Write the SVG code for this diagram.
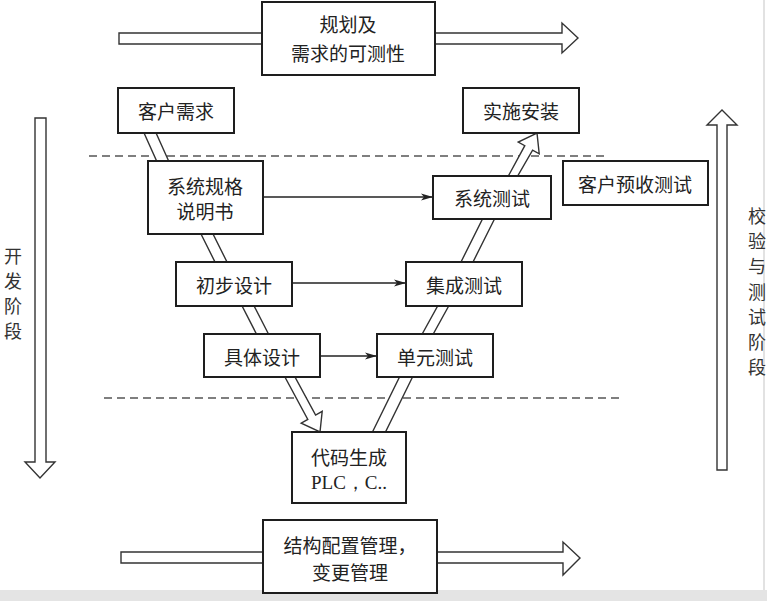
<svg xmlns="http://www.w3.org/2000/svg" width="767" height="601" viewBox="0 0 767 601">
<style>
.box{fill:#fff;stroke:#1e1e1e;stroke-width:2}
.t{font-family:"Noto Sans CJK SC","Noto Sans CJK JP",sans-serif;font-size:19px;fill:#222;text-anchor:middle;dominant-baseline:central}
.lat{font-family:"Liberation Serif",serif;font-size:19px;fill:#222;text-anchor:middle;dominant-baseline:central}
.v{font-family:"Noto Sans CJK SC","Noto Sans CJK JP",sans-serif;font-size:18px;fill:#333;text-anchor:middle;dominant-baseline:central}
.hol{fill:#fff;stroke:#333;stroke-width:1.4;stroke-linejoin:miter}
.dash{stroke:#555;stroke-width:1.5;stroke-dasharray:8 5;fill:none}
.link{stroke:#222;stroke-width:1.3;fill:none;marker-end:url(#ah)}
</style>
<defs>
<marker id="ah" viewBox="0 0 12 8" refX="12" refY="4" markerWidth="12" markerHeight="8" markerUnits="userSpaceOnUse" orient="auto">
<path d="M0,0.5 L12,4 L0,7.5 L3,4 Z" fill="#222"/>
</marker>
</defs>
<rect x="0" y="0" width="767" height="601" fill="#fff"/>
<rect x="0" y="590" width="767" height="11" fill="#e4e4e4"/>
<line x1="764" y1="0" x2="764" y2="590" stroke="#d8d8d8" stroke-width="1.5"/>

<g id="phase-arrows">
<polygon class="hol" points="119,33 562,33 562,23 578,38 562,53 562,44 119,44"/>
<polygon class="hol" points="121,552 563,552 563,542 580,558 563,575 563,563 121,563"/>
<polygon class="hol" points="35,118 46,118 46,462 55,462 40,478 25,462 35,462"/>
<polygon class="hol" points="717,470 727,470 727,125 737,125 722,110 707,125 717,125"/>
</g>

<g id="dashed-lines">
<line class="dash" x1="89" y1="156" x2="608" y2="156"/>
<line class="dash" x1="104" y1="398" x2="622" y2="398"/>
</g>

<g id="connectors">
<!-- left branch of V -->
<polygon class="hol" points="140,124 152,124 170,164 158,164"/>
<polygon class="hol" points="197,226 209,226 229,266 217,266"/>
<polygon class="hol" points="238,298 250,298 270,337 258,337"/>
<polygon class="hol" points="279,366 289,366 315.6,415 322.2,411.3 320,432 301.2,423.1 307.8,419.4"/>
<!-- right branch of V -->
<polygon class="hol" points="370,437 383,437 415,372 402,372"/>
<polygon class="hol" points="420,338 431,338 452,300 441,300"/>
<polygon class="hol" points="458,268 470,268 498,212 486,212"/>
<polygon class="hol" points="504,184 513,184 532.6,150.1 539.2,153.8 537,133 518.2,142 524.8,145.7"/>
<!-- horizontal links -->
<path class="link" d="M263,197 H433"/>
<path class="link" d="M292,283 H406"/>
<path class="link" d="M320,356 H377"/>
</g>

<g id="plan">
<rect class="box" x="262" y="2" width="173" height="73"/>
<text class="t" x="348" y="23">规划及</text>
<text class="t" x="348" y="52">需求的可测性</text>
</g>
<g id="cm">
<rect class="box" x="263" y="520" width="174" height="73"/>
<text class="t" x="350" y="544">结构配置管理，</text>
<text class="t" x="350" y="571">变更管理</text>
</g>
<g id="req">
<rect class="box" x="118" y="88" width="116" height="45"/>
<text class="t" x="176" y="110">客户需求</text>
</g>
<g id="spec">
<rect class="box" x="148" y="161" width="115" height="73"/>
<text class="t" x="205" y="185">系统规格</text>
<text class="t" x="205" y="210">说明书</text>
</g>
<g id="prelim">
<rect class="box" x="176" y="262" width="116" height="44"/>
<text class="t" x="234" y="284">初步设计</text>
</g>
<g id="detail">
<rect class="box" x="204" y="334" width="116" height="43"/>
<text class="t" x="262" y="356">具体设计</text>
</g>
<g id="code">
<rect class="box" x="292" y="432" width="114" height="71"/>
<text class="t" x="349" y="456">代码生成</text>
<text class="lat" x="349" y="482">PLC，C..</text>
</g>
<g id="unit">
<rect class="box" x="377" y="334" width="116" height="43"/>
<text class="t" x="435" y="356">单元测试</text>
</g>
<g id="integ">
<rect class="box" x="406" y="262" width="116" height="44"/>
<text class="t" x="464" y="284">集成测试</text>
</g>
<g id="systest">
<rect class="box" x="433" y="176" width="118" height="43"/>
<text class="t" x="492" y="197">系统测试</text>
</g>
<g id="install">
<rect class="box" x="463" y="88" width="116" height="45"/>
<text class="t" x="521" y="110">实施安装</text>
</g>
<g id="accept">
<rect class="box" x="563" y="161" width="145" height="44"/>
<text class="t" x="635" y="183">客户预收测试</text>
</g>

<g id="dev-label">
<text class="v" x="13" y="255">开</text>
<text class="v" x="13" y="280">发</text>
<text class="v" x="13" y="305">阶</text>
<text class="v" x="13" y="330">段</text>
</g>
<g id="vv-label">
<text class="v" x="757" y="215">校</text>
<text class="v" x="757" y="240">验</text>
<text class="v" x="757" y="265">与</text>
<text class="v" x="757" y="291">测</text>
<text class="v" x="757" y="316">试</text>
<text class="v" x="757" y="341">阶</text>
<text class="v" x="757" y="366">段</text>
</g>
</svg>
